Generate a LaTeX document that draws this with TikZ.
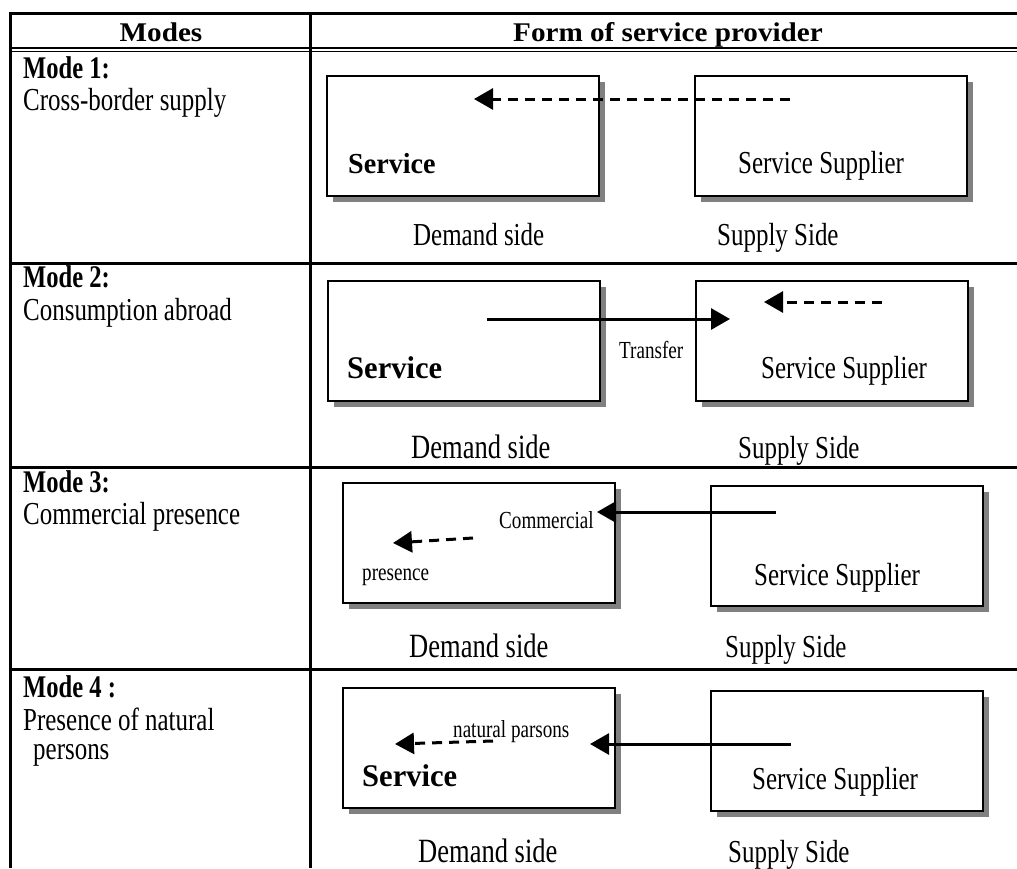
\documentclass[tikz,border=0pt]{standalone}
\usepackage{fontspec}
\setmainfont{Liberation Serif}
\newfontfamily\condf[FakeStretch=0.78]{Liberation Serif}
\newfontfamily\widef[FakeStretch=1.08]{Liberation Serif}
\newfontfamily\svcf[FakeStretch=0.97]{Liberation Serif}
\usetikzlibrary{arrows.meta,shadows}
\definecolor{shgray}{HTML}{808080}
\tikzset{
  txt/.style={inner sep=0pt, anchor=base west, font=\condf\fontsize{32}{32}\selectfont},
  bigtxt/.style={inner sep=0pt, anchor=base west, font=\condf\fontsize{34}{34}\selectfont},
  modelbl/.style={inner sep=0pt, anchor=base west, font=\condf\bfseries\fontsize{31.5}{31.5}\selectfont},
  smalllbl/.style={inner sep=0pt, anchor=base west, font=\condf\fontsize{24.5}{24.5}\selectfont},
  svclbl/.style={inner sep=0pt, anchor=base west, font=\svcf\bfseries\fontsize{31.5}{31.5}\selectfont},
  svclblsm/.style={svclbl, font=\svcf\bfseries\fontsize{29}{29}\selectfont},
  hdr/.style={inner sep=0pt, anchor=base, font=\widef\bfseries\fontsize{27}{27}\selectfont},
  sbox/.style={draw, line width=2pt, fill=white, rectangle, minimum width=272pt, minimum height=120pt, inner sep=0pt,
    general shadow={fill=shgray, shadow xshift=6pt, shadow yshift=-6pt}},
  tline/.style={line width=3pt},
  dline/.style={line width=1.8pt},
  solidarr/.style={line width=3pt, -{Triangle[length=19pt,width=21pt]}},
  dasharr/.style={solidarr, dash pattern=on 10pt off 7pt},
}
\begin{document}
\begin{tikzpicture}[x=1pt,y=-1pt]
\useasboundingbox (0,0) rectangle (1017,868);
% table rules
\draw[tline] (8.5,13) -- (1017,13);
\draw[dline] (10,47.8) -- (1017,47.8);
\draw[dline] (10,51.5) -- (1017,51.5);
\draw[tline] (10,263) -- (1017,263);
\draw[tline] (10,467) -- (1017,467);
\draw[tline] (10,669) -- (1017,669);
\draw[tline] (10,13) -- (10,868);
\draw[tline] (310,13) -- (310,868);
% header
\node[hdr] (hmodes) at (161,41) {Modes};
\node[hdr] (hform) at (668,41) {Form of service provider};
% left column
\node[modelbl] (m1) at (23,78) {Mode 1:};
\node[txt] (m1t) at (23,110) {Cross-border supply};
\node[modelbl] (m2) at (23,287) {Mode 2:};
\node[txt] (m2t) at (23,320) {Consumption abroad};
\node[modelbl] (m3) at (23,492) {Mode 3:};
\node[txt] (m3t) at (23,524) {Commercial presence};
\node[modelbl] (m4) at (23,697) {Mode 4 :};
\node[txt] (m4t) at (23,730) {Presence of natural};
\node[txt] (m4u) at (33,759) {persons};
% row 1
\node[sbox] (d1) at (462.5,136) {};
\node[sbox] (s1) at (831,136) {};
\node[svclblsm] (d1t) at (348,173) {Service};
\node[txt] (s1t) at (738,173) {Service Supplier};
\node[txt] (d1l) at (413,245) {Demand side};
\node[txt] (s1l) at (717,245) {Supply Side};
\coordinate (a1s) at (790,99);
\coordinate (a1e) at (474,99);
\draw[dasharr] (a1s) -- (a1e);
% row 2
\node[sbox] (d2) at (464,341) {};
\node[sbox] (s2) at (832,341) {};
\node[svclbl] (d2t) at (347,378) {Service};
\node[txt] (s2t) at (761,378) {Service Supplier};
\node[smalllbl] (tr) at (619,358) {Transfer};
\node[bigtxt] (d2l) at (411,458) {Demand side};
\node[txt] (s2l) at (738,458) {Supply Side};
\coordinate (a2s) at (487,319);
\coordinate (a2e) at (730,319);
\draw[solidarr] (a2s) -- (a2e);
\coordinate (b2s) at (882,302);
\coordinate (b2e) at (764,302);
\draw[dasharr] (b2s) -- (b2e);
% row 3
\node[sbox] (d3) at (479,543) {};
\node[sbox] (s3) at (846.5,546) {};
\node[smalllbl] (cm) at (499,528) {Commercial};
\node[smalllbl] (pr) at (362,580) {presence};
\node[txt] (s3t) at (754,585) {Service Supplier};
\node[bigtxt] (d3l) at (409,657) {Demand side};
\node[txt] (s3l) at (725,657) {Supply Side};
\coordinate (a3s) at (776,512);
\coordinate (a3e) at (597,512);
\draw[solidarr] (a3s) -- (a3e);
\coordinate (b3s) at (473,538);
\coordinate (b3e) at (393,543);
\draw[dasharr] (b3s) -- (b3e);
% row 4
\node[sbox] (d4) at (479,748) {};
\node[sbox] (s4) at (847,750.5) {};
\node[smalllbl] (np) at (453,737) {natural parsons};
\node[svclbl] (d4t) at (362,786) {Service};
\node[txt] (s4t) at (752,789) {Service Supplier};
\node[bigtxt] (d4l) at (418,862) {Demand side};
\node[txt] (s4l) at (728,862) {Supply Side};
\coordinate (a4s) at (791,744);
\coordinate (a4e) at (590,744);
\draw[solidarr] (a4s) -- (a4e);
\coordinate (b4s) at (493,741);
\coordinate (b4e) at (395,744);
\draw[dasharr] (b4s) -- (b4e);
\end{tikzpicture}
\end{document}
